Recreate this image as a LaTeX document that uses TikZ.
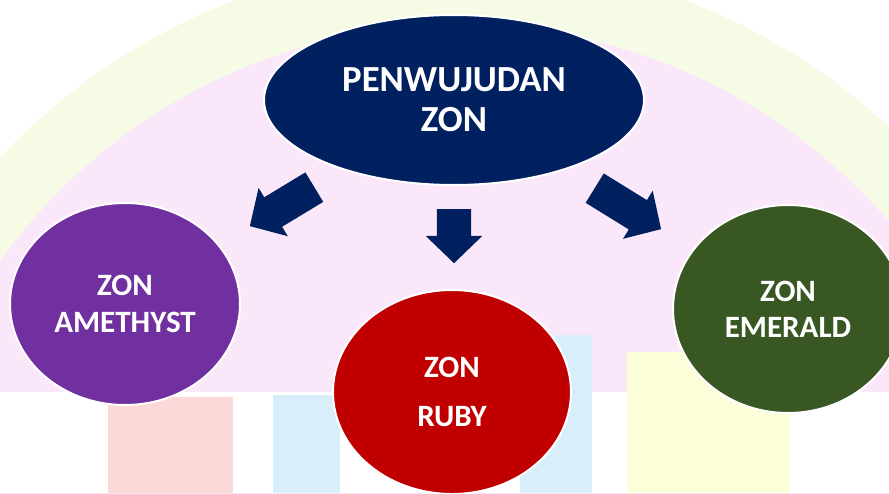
\documentclass[tikz,border=0pt]{standalone}
\usepackage{fontspec}
\setmainfont{Carlito}
\usepackage{tikz}
\usetikzlibrary{positioning,shapes.geometric,shapes.arrows}
\definecolor{zonnavy}{HTML}{002060}
\definecolor{zonpurple}{HTML}{7030A0}
\definecolor{zonred}{HTML}{C00000}
\definecolor{zongreen}{HTML}{385723}
\definecolor{bgpink}{HTML}{FAE8FA}
\definecolor{bgyellow}{HTML}{F6FBE6}
\definecolor{bgred}{HTML}{FCD9D9}
\definecolor{bgblue}{HTML}{D9EEFB}
\definecolor{bglemon}{HTML}{FCFDD9}

\begin{document}
\begin{tikzpicture}[x=0.3mm,y=-0.3mm,
    zon/.style={ellipse, draw=white, line width=0.6mm, text=white, inner sep=0pt,
      align=center, font=\fontsize{26.5}{31}\selectfont\bfseries},
    blockarrow/.style={single arrow, fill=zonnavy, draw=none, inner xsep=0pt,
      inner ysep=5.1mm, single arrow head extend=3.3mm, single arrow tip angle=92,
      anchor=tail}]
    \useasboundingbox (0,0) rectangle (889,493);
    \clip (0,0) rectangle (889,493);
    % faded backdrop
    \fill [bgyellow] (460,591) circle (632);
    \fill [bgpink] (460,591) circle (566);
    \fill [white] (0,392) rectangle (889,493);
    \fill [bgred] (108,397) rectangle (233,493);
    \fill [bgblue] (273,395) rectangle (340,493);
    \fill [bgblue] (520,335) rectangle (592,493);
    \fill [bglemon] (627,352) rectangle (790,493);
    % zones
    \node [zon, fill=zonnavy, minimum width=114mm, minimum height=51mm,
      font=\fontsize{31.4}{34}\selectfont\bfseries] (penwujudan) at (454,100) {PENWUJUDAN\\ZON};
    \node [zon, fill=zonpurple, minimum width=69mm, minimum height=60.6mm] (amethyst) at (125,304) {ZON\\AMETHYST};
    \node [zon, fill=zonred, minimum width=71.4mm, minimum height=61.2mm] (ruby) at (452,392) {ZON\\[10.7pt]RUBY};
    \node [zon, fill=zongreen, minimum width=69mm, minimum height=62.4mm] (emerald) at (788,309) {ZON\\EMERALD};
    % arrows
    \node [blockarrow, rotate=211.2, minimum height=22.6mm] (arrowleft) at (314.5,187) {};
    \node [blockarrow, rotate=-90, minimum height=16.2mm] (arrowdown) at (454,209) {};
    \node [blockarrow, rotate=-31.7, minimum height=23.4mm] (arrowright) at (594.5,188) {};
\end{tikzpicture}
\end{document}
